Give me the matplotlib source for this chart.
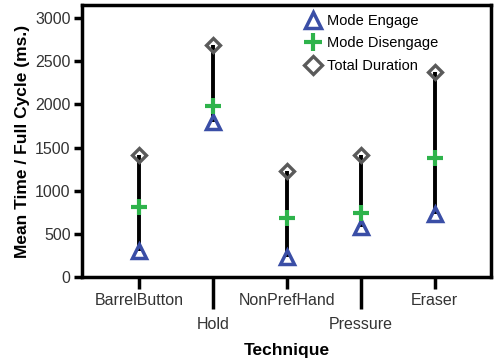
import numpy as np
import matplotlib.pyplot as plt

plt.rcParams['font.family'] = ['Liberation Sans', 'DejaVu Sans']

techniques = ["BarrelButton", "Hold", "NonPrefHand", "Pressure", "Eraser"]
engage = [300, 1800, 240, 580, 735]
disengage = [815, 1980, 690, 740, 1380]
total = [1415, 2680, 1230, 1410, 2370]

x = np.arange(1, len(techniques) + 1)

fig = plt.figure(figsize=(4.96, 3.58), dpi=100)
ax = fig.add_axes([0.165, 0.225, 0.825, 0.762])

ax.vlines(x, engage, total, color='black', lw=2.8, zorder=1)
ax.plot(x, engage, ls='none', marker='^', ms=9.5, mfc='none', mec='#3a4ea6',
        mew=2.5, label='Mode Engage', zorder=3)
ax.plot(x, disengage, ls='none', marker='+', ms=11, mec='#2eb34b',
        mew=3, label='Mode Disengage', zorder=3)
ax.plot(x, total, ls='none', marker='D', ms=7.5, mfc='none', mec='#5a5a5a',
        mew=2.4, label='Total Duration', zorder=3)

ax.set_xlim(0.23, 5.76)
ax.set_ylim(0, 3150)
ax.set_yticks([0, 500, 1000, 1500, 2000, 2500, 3000])
ax.set_xticks(x)
ax.set_xticklabels(techniques)
for i, lab in enumerate(ax.get_xticklabels()):
    if i % 2 == 1:
        lab.set_y(-0.085)
ax.tick_params(axis='both', width=2.5, colors='black', labelcolor='#333333',
               labelsize=11.5)
ax.tick_params(axis='y', length=6, pad=2)
ax.tick_params(axis='x', length=8.5, pad=3)
for t, tick in enumerate(ax.xaxis.get_major_ticks()):
    if t % 2 == 1:
        tick.tick1line.set_markersize(23)
for s in ax.spines.values():
    s.set_linewidth(2.5)

ax.set_ylabel('Mean Time / Full Cycle (ms.)', fontsize=12.5, fontweight='bold',
              labelpad=4)
ax.set_xlabel('Technique', fontsize=12.5, fontweight='bold', labelpad=8)

ax.legend(loc='upper left', bbox_to_anchor=(0.51, 1.015), frameon=False,
          fontsize=10.5, handletextpad=0.3, labelspacing=0.6, handlelength=1.3,
          markerscale=1.2)

fig.savefig('out.png', dpi=100)
